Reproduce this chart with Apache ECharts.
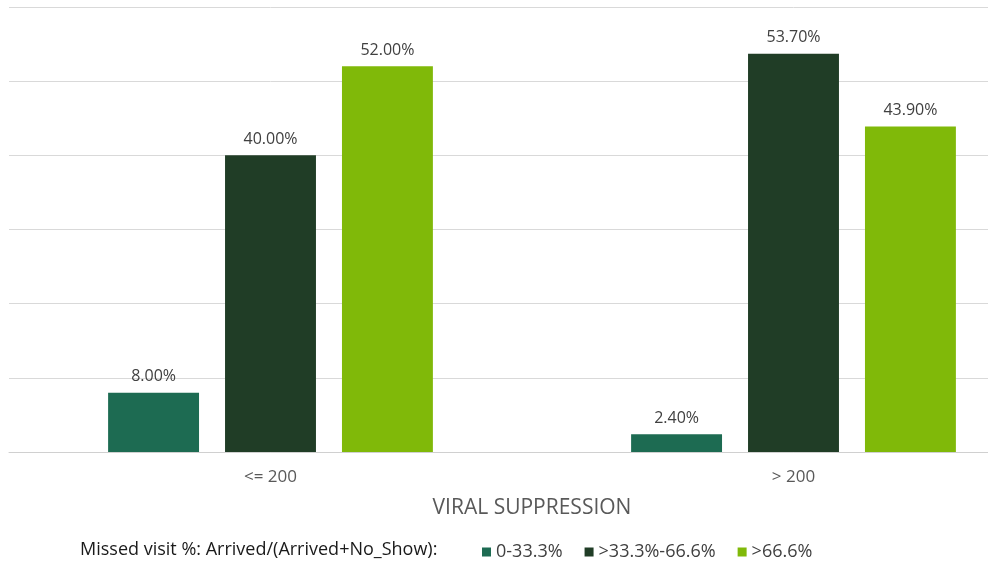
<!DOCTYPE html>
<html><head><meta charset="utf-8">
<script src="https://cdn.jsdelivr.net/npm/echarts@6/dist/echarts.min.js"></script>
<style>html,body{margin:0;padding:0;background:#fff;overflow:hidden;width:988px;height:565px}#c{width:1056px;height:565px}</style>
</head><body><div id="c"></div>
<script>
var categories = ['<= 200', '> 200'];
var seriesNames = ['0-33.3%', '>33.3%-66.6%', '>66.6%'];
var low = [8.0, 2.4];
var mid = [40.0, 53.7];
var high = [52.0, 43.9];
var colors = ['#1d6b52', '#203d26', '#80b909'];
var values = [low, mid, high];

var chart = echarts.init(document.getElementById('c'));
var font = '"Open Sans", Lato, sans-serif';
chart.setOption({
  animation: false,
  textStyle: {fontFamily: font},
  grid: {left: 9, top: 7, right: 1, height: 445, containLabel: false},
  xAxis: {
    type: 'category', data: categories,
    axisLine: {lineStyle: {color: '#d0d0d0'}},
    axisTick: {show: false},
    axisLabel: {color: '#595959', fontSize: 17, margin: 17, fontFamily: font},
    name: 'VIRAL SUPPRESSION', nameLocation: 'middle', nameGap: 46,
    nameTextStyle: {color: '#595959', fontSize: 21, fontFamily: font}
  },
  yAxis: {
    type: 'value', min: 0, max: 60, interval: 10,
    axisLabel: {show: false}, axisLine: {show: false}, axisTick: {show: false},
    splitLine: {lineStyle: {color: '#d9d9d9'}}
  },
  legend: {
    left: 477, top: 538, itemWidth: 9, itemHeight: 9, itemGap: 22, icon: 'rect',
    textStyle: {color: '#404040', fontSize: 18, fontFamily: font}, selectedMode: false,
    data: seriesNames
  },
  graphic: [{type: 'text', left: 80, top: 541, style: {text: 'Missed visit %: Arrived/(Arrived+No_Show):', fill: '#1a1a1a', font: '18px ' + font}}],
  series: seriesNames.map(function (n, i) {
    return {
      name: n, type: 'bar', data: values[i], barGap: '28.6%', barCategoryGap: '37.9%',
      itemStyle: {color: colors[i]},
      label: {show: true, position: 'top', distance: 8, color: '#404040', fontSize: 16, fontFamily: font,
        formatter: function (p) { return p.value.toFixed(2) + '%'; }}
    };
  })
});
</script></body></html>
